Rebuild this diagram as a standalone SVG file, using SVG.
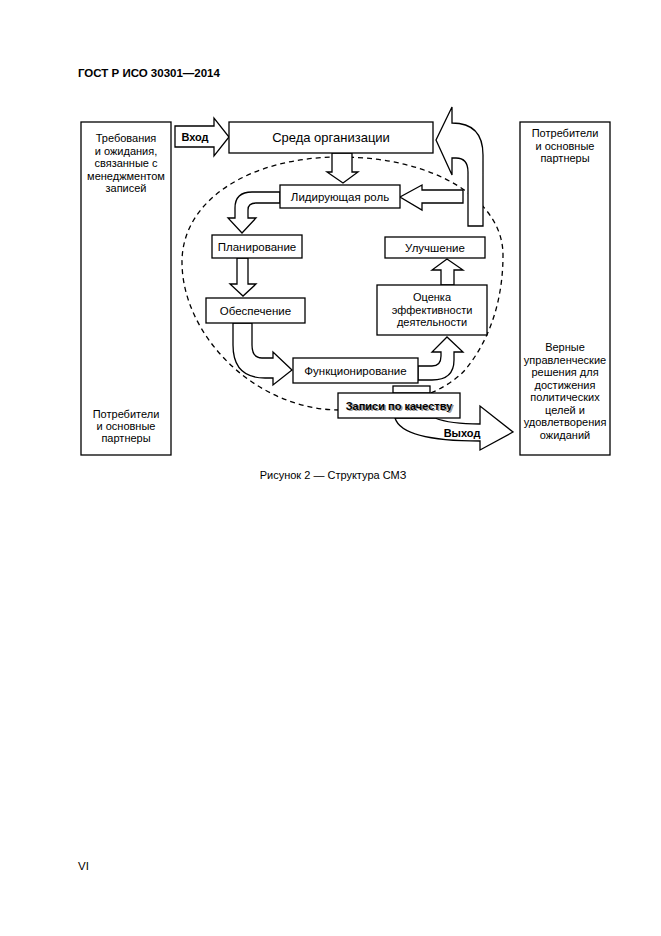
<svg xmlns="http://www.w3.org/2000/svg" width="661" height="936" viewBox="0 0 661 936">
<style>
text{font-family:"Liberation Sans",Arial,sans-serif;fill:#000}
.t{font-size:11px;text-anchor:middle}
.b{font-size:11.5px;text-anchor:middle}
.bold{font-weight:bold}
.box{fill:#fff;stroke:#000;stroke-width:1.3}
.arr{fill:#fff;stroke:#000;stroke-width:1.3;stroke-linejoin:miter}
.dash{fill:none;stroke:#000;stroke-width:1.3;stroke-dasharray:5,4}
</style>
<rect width="661" height="936" fill="#fff"/>
<text x="78" y="77" style="font-size:11.5px;font-weight:bold">ГОСТ Р ИСО 30301—2014</text>

<g id="connectors">
<path class="dash" d="M 340 157 C 435 157 503 200 503 255 C 503 300 490 340 465 370 C 445 392 400 410 340 410 C 255 410 182 335 182 262 C 182 200 250 157 340 157 Z"/>
<polygon id="vhod" class="arr" points="175,126 214,126 214,118 229,137 214,156 214,147 175,147"/>
<polygon class="arr" points="332,153 352,153 352,172 358,172 343,183 327,172 332,172"/>
<polygon class="arr" points="463,190 422,190 422,185 400,197 422,210 422,203 463,203"/>
<path class="arr" d="M 468 226 L 468 172 Q 468 158 456 158 L 452 158 L 452 175 L 436 140 L 452 107 L 452 123 Q 483 123 483 155 L 483 226 Z"/>
<path class="arr" d="M 280 192 L 252 192 Q 235 192 235 208 L 235 218 L 228 218 L 242 233 L 256 218 L 248 218 L 248 210 Q 248 203 256 203 L 280 203 Z"/>
<polygon class="arr" points="237,258 248,258 248,284 256,284 243,296 230,284 237,284"/>
<path class="arr" d="M 233 323 L 233 345 Q 233 378 265 378 L 273 378 L 273 385 L 292 370 L 273 352 L 273 358 L 262 358 Q 252 358 252 345 L 252 323 Z"/>
<path class="arr" d="M 418 366 L 432 366 Q 441 366 441 356 L 441 352 L 432 352 L 447 337 L 463 352 L 454 352 L 454 360 Q 454 380 432 380 L 418 380 Z"/>
<polygon class="arr" points="441,285 454,285 454,270 463,270 447,259 432,270 441,270"/>
<path class="arr" d="M 395 418 Q 402 441 480 441 L 480 450 L 513 432 L 480 406 L 480 424 Q 450 424 435 418 Z"/>
</g>

<text x="195" y="141" class="t bold">Вход</text>
<text x="462" y="437" class="t bold">Выход</text>

<g id="left-box">
<rect class="box" x="81" y="122" width="90" height="333"/>
<text class="t" x="126" y="142">Требования</text>
<text class="t" x="126" y="154.5">и ожидания,</text>
<text class="t" x="126" y="167">связанные с</text>
<text class="t" x="126" y="179.5">менеджментом</text>
<text class="t" x="126" y="192">записей</text>
<text class="t" x="126" y="418">Потребители</text>
<text class="t" x="126" y="430">и основные</text>
<text class="t" x="126" y="442">партнеры</text>
</g>

<g id="right-box">
<rect class="box" x="520" y="122" width="90" height="333"/>
<text class="t" x="565" y="137">Потребители</text>
<text class="t" x="565" y="149.5">и основные</text>
<text class="t" x="565" y="162">партнеры</text>
<text class="t" x="565" y="351">Верные</text>
<text class="t" x="565" y="363.5">управленческие</text>
<text class="t" x="565" y="376">решения для</text>
<text class="t" x="565" y="388.5">достижения</text>
<text class="t" x="565" y="401">политических</text>
<text class="t" x="565" y="413.5">целей и</text>
<text class="t" x="565" y="426">удовлетворения</text>
<text class="t" x="565" y="438.5">ожиданий</text>
</g>

<g id="sreda">
<rect class="box" x="229" y="122" width="204" height="31"/>
<text x="331" y="142" style="font-size:13px;text-anchor:middle">Среда организации</text>
</g>

<g id="lider">
<rect class="box" x="280" y="185" width="120" height="23"/>
<text class="b" x="340" y="200.5">Лидирующая роль</text>
</g>

<g id="planirovanie">
<rect class="box" x="212" y="235" width="90" height="23"/>
<text class="b" x="257" y="250.5">Планирование</text>
</g>

<g id="obespechenie">
<rect class="box" x="206" y="298" width="99" height="25"/>
<text class="b" x="255.5" y="314.5">Обеспечение</text>
</g>

<g id="funkcionirovanie">
<rect class="box" x="293" y="358" width="125" height="25"/>
<text class="b" x="355.5" y="374.5">Функционирование</text>
</g>

<g id="ocenka">
<rect class="box" x="377" y="285" width="110" height="50"/>
<text class="t" x="432" y="301">Оценка</text>
<text class="t" x="432" y="313.5">эффективности</text>
<text class="t" x="432" y="326">деятельности</text>
</g>

<g id="uluchshenie">
<rect class="box" x="385" y="237" width="100" height="21"/>
<text class="b" x="435" y="251.5">Улучшение</text>
</g>

<g id="zapisi">
<rect class="box" x="393" y="386" width="37" height="7"/>
<rect class="box" x="338" y="393" width="122" height="25"/>
<text class="t bold" x="400.5" y="411" style="fill:#999">Записи по качеству</text>
<text class="t bold" x="399" y="410">Записи по качеству</text>
</g>

<text x="333" y="479" style="font-size:11px;text-anchor:middle">Рисунок 2 — Структура СМЗ</text>
<text x="78" y="870" style="font-size:11.5px">VI</text>
</svg>
